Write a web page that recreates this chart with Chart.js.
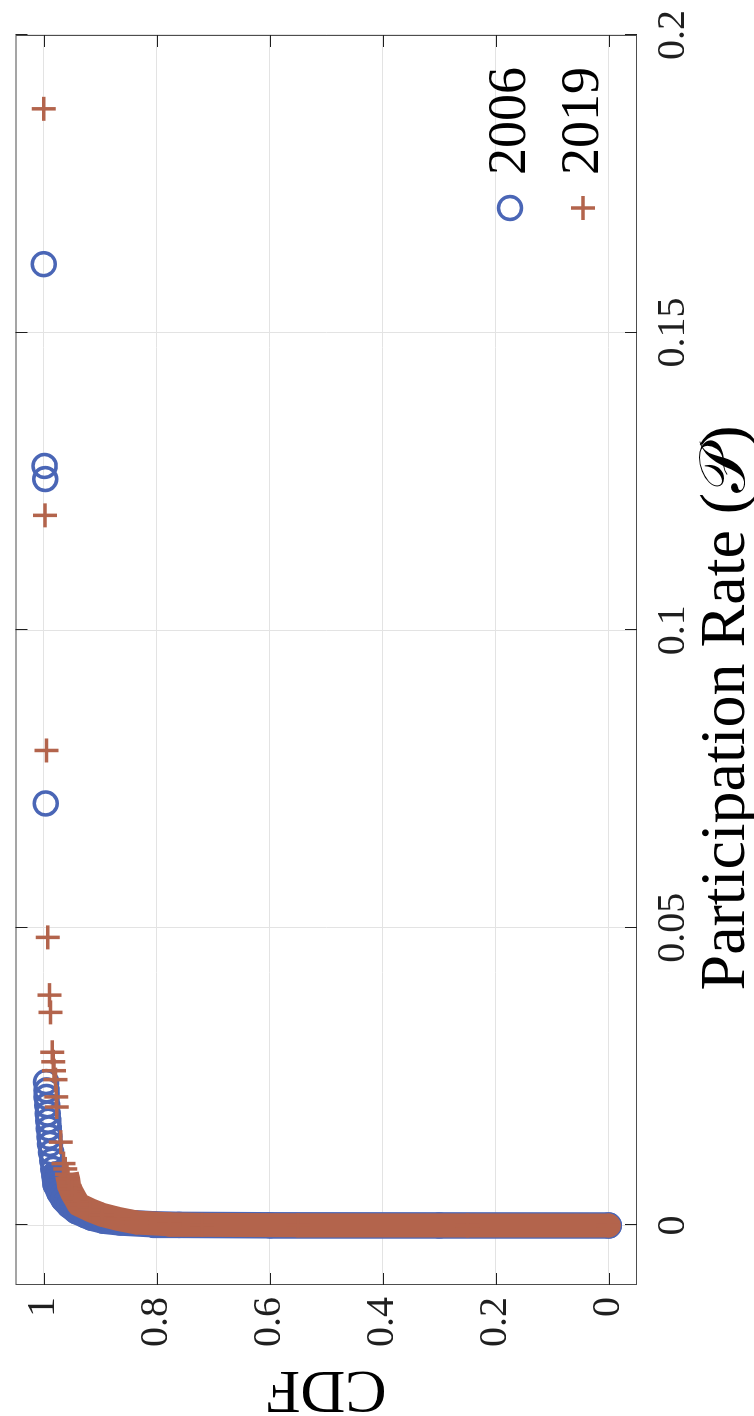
<!DOCTYPE html>
<html>
<head>
<meta charset="utf-8">
<script src="https://cdn.jsdelivr.net/npm/chart.js@4.4.1/dist/chart.umd.min.js"></script>
<style>
  html, body { margin: 0; padding: 0; background: #fff; overflow: hidden; }
  /* the figure is drawn landscape and turned a quarter turn, like the reference */
  #wrap { position: absolute; left: 0; top: 0; width: 1416px; height: 754px;
          transform-origin: 0 0; transform: translate(0, 1416px) rotate(-90deg); }
</style>
</head>
<body>
<div id="wrap"><canvas id="cdfChart" width="1416" height="754"></canvas></div>
<script>
// series (participation rate, CDF)
const years = ['2006', '2019'];

const rate2006 = [0.1615, 0.1276, 0.1254, 0.0709,
  0.0241, 0.0227, 0.0216, 0.0202, 0.0188, 0.0176, 0.0163, 0.0149, 0.0137, 0.0123, 0.0109, 0.0095,
  0.0085, 0.0069, 0.0055, 0.0044, 0.0034, 0.0024, 0.0017, 0.0013, 0.0008, 0.0005, 0.0002, 0.0001, 0.00003, 0, 0];
const cdf2006 = [1.000, 0.9985, 0.9975, 0.9965,
  0.996, 0.995, 0.995, 0.994, 0.993, 0.992, 0.991, 0.990, 0.989, 0.987, 0.985, 0.983,
  0.981, 0.979, 0.972, 0.965, 0.955, 0.942, 0.925, 0.915, 0.894, 0.864, 0.806, 0.760, 0.600, 0.300, 0.000];

const rate2019 = [0.1876, 0.1193, 0.0798, 0.0484, 0.0387, 0.0358, 0.0291, 0.0275, 0.0260, 0.0245, 0.0216, 0.0199, 0.0140, 0.0104, 0.0095, 0.0086,
  0.0078, 0.0066, 0.0055, 0.0045, 0.0035, 0.0026, 0.0018, 0.0011, 0.0005, 0.0002, 0.0001, 0.00004, 0, 0];
const cdf2019 = [1.000, 0.9977, 0.9953, 0.993, 0.990, 0.988, 0.985, 0.983, 0.982, 0.979, 0.978, 0.977, 0.970, 0.965, 0.962, 0.959,
  0.957, 0.955, 0.950, 0.944, 0.938, 0.918, 0.897, 0.868, 0.836, 0.777, 0.720, 0.550, 0.250, 0.000];

const rateTicks = [0, 0.05, 0.1, 0.15, 0.2];
const rateTickLabels = ['0', '0.05', '0.1', '0.15', '0.2'];
const cdfTicks = [0, 0.2, 0.4, 0.6, 0.8, 1];
const cdfTickLabels = ['0', '0.2', '0.4', '0.6', '0.8', '1'];

// below these rates the markers pile up into a solid mass
const solidBelow2006 = 0.0086;
const solidBelow2019 = 0.0086;

const blue = '#4a66b6';
const brown = '#b3644c';
const ink = '#1f1f1f';
const tickLen = 12;

Chart.defaults.font.family = '"Liberation Serif", "DejaVu Serif", serif';
Chart.defaults.color = ink;

const toPoints = (rates, cdfs) => rates.map((r, i) => ({ x: r, y: cdfs[i] }));
const pts2006 = toPoints(rate2006, cdf2006);
const pts2019 = toPoints(rate2019, cdf2019);

// box with inward ticks on all four sides
const axesFrame = {
  id: 'axesFrame',
  afterDatasetsDraw(chart) {
    const { ctx, chartArea: a, scales: { x, y } } = chart;
    ctx.save();
    ctx.strokeStyle = '#4d4d4d';
    ctx.lineWidth = 1;
    ctx.strokeRect(a.left + 0.5, a.top + 0.5, a.right - a.left - 1, a.bottom - a.top - 1);
    ctx.strokeStyle = ink;
    ctx.beginPath();
    rateTicks.forEach(v => {
      const px = Math.round(x.getPixelForValue(v)) + 0.5;
      ctx.moveTo(px, a.bottom); ctx.lineTo(px, a.bottom - tickLen);
      ctx.moveTo(px, a.top); ctx.lineTo(px, a.top + tickLen);
    });
    cdfTicks.forEach(v => {
      const py = Math.round(y.getPixelForValue(v)) + 0.5;
      ctx.moveTo(a.left, py); ctx.lineTo(a.left + tickLen, py);
      ctx.moveTo(a.right, py); ctx.lineTo(a.right - tickLen, py);
    });
    ctx.stroke();
    ctx.restore();
  }
};

// legend in the lower right corner of the axes
const yearLegend = {
  id: 'yearLegend',
  afterDraw(chart) {
    const { ctx, chartArea: a } = chart;
    const mx = a.right - 173;
    const tx = a.right - 140;
    const rows = [a.bottom - 127, a.bottom - 54];
    ctx.save();
    ctx.lineWidth = 3.5;
    ctx.strokeStyle = blue;
    ctx.beginPath();
    ctx.arc(mx, rows[0], 11.5, 0, Math.PI * 2);
    ctx.stroke();
    ctx.strokeStyle = brown;
    ctx.beginPath();
    ctx.moveTo(mx - 12, rows[1]); ctx.lineTo(mx + 12, rows[1]);
    ctx.moveTo(mx, rows[1] - 12); ctx.lineTo(mx, rows[1] + 12);
    ctx.stroke();
    ctx.fillStyle = '#000';
    ctx.font = '54px "Liberation Serif", serif';
    ctx.textAlign = 'left';
    ctx.textBaseline = 'middle';
    ctx.fillText(years[0], tx, rows[0] + 1);
    ctx.fillText(years[1], tx, rows[1] + 1);
    ctx.restore();
  }
};

const ctx = document.getElementById('cdfChart').getContext('2d');
new Chart(ctx, {
  type: 'scatter',
  data: {
    datasets: [
      { label: years[1], data: pts2019, order: 0, clip: false,
        pointStyle: 'cross', pointRadius: 12, pointHoverRadius: 12, pointBorderWidth: 3.5,
        pointBorderColor: brown, pointBackgroundColor: brown, borderColor: brown },
      { label: years[1] + ' mass', data: pts2019.filter(p => p.x <= solidBelow2019), order: 1, clip: false,
        showLine: true, pointRadius: 0, borderWidth: 24, borderColor: brown,
        borderJoinStyle: 'round', borderCapStyle: 'butt' },
      { label: years[0], data: pts2006, order: 2, clip: false,
        pointStyle: 'circle', pointRadius: 11.5, pointHoverRadius: 11.5, pointBorderWidth: 3.5,
        pointBorderColor: blue, pointBackgroundColor: 'rgba(0,0,0,0)', borderColor: blue },
      { label: years[0] + ' mass', data: pts2006.filter(p => p.x <= solidBelow2006), order: 3, clip: false,
        showLine: true, pointRadius: 0, borderWidth: 26.5, borderColor: blue,
        borderJoinStyle: 'round', borderCapStyle: 'round' }
    ]
  },
  options: {
    responsive: false,
    animation: false,
    events: [],
    layout: { padding: { top: 12, right: 35, left: 0, bottom: 0 } },
    plugins: { legend: { display: false }, tooltip: { enabled: false } },
    scales: {
      x: {
        type: 'linear', position: 'bottom', min: -0.01, max: 0.2,
        afterBuildTicks: s => { s.ticks = rateTicks.map(v => ({ value: v })); },
        afterFit: s => { s.height = 117; s.paddingLeft = 0; s.paddingRight = 0; },
        grid: { color: '#e3e3e3', drawTicks: false },
        border: { display: false },
        ticks: { padding: 12, maxRotation: 0, font: { size: 40 },
                 callback: (v, i) => rateTickLabels[i] },
        // trailing en spaces nudge the label off-centre as in the reference
        title: { display: true, text: 'Participation Rate (𝒫)\u2002\u2002\u2002', color: '#000',
                 font: { size: 64, lineHeight: 0.85 }, padding: { top: 0, bottom: 0 } }
      },
      y: {
        type: 'linear', position: 'left', min: -0.05, max: 1.05,
        afterBuildTicks: s => { s.ticks = cdfTicks.map(v => ({ value: v })); },
        afterFit: s => { s.width = 131; s.paddingTop = 0; s.paddingBottom = 0; },
        grid: { color: '#e3e3e3', drawTicks: false },
        border: { display: false },
        ticks: { padding: 12, font: { size: 40 },
                 callback: (v, i) => cdfTickLabels[i] },
        title: { display: true, text: 'CDF', color: '#000',
                 font: { size: 62, lineHeight: 0.9 }, padding: { top: 0, bottom: 0 } }
      }
    }
  },
  plugins: [axesFrame, yearLegend]
});
</script>
</body>
</html>
